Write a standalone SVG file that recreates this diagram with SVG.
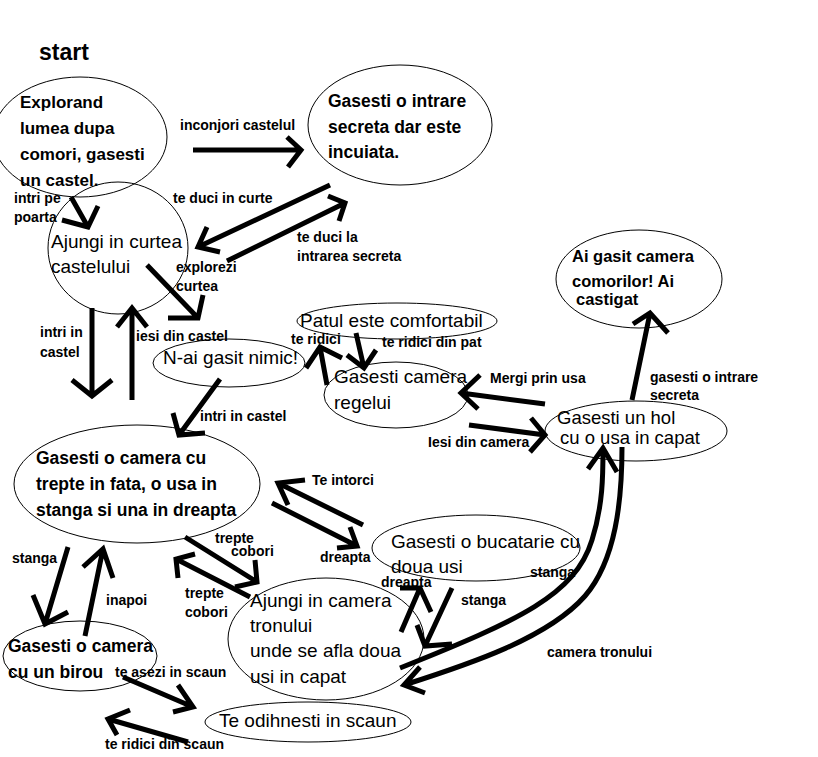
<svg xmlns="http://www.w3.org/2000/svg" width="818" height="757" viewBox="0 0 818 757">
<style>
.bg{fill:#fff}
.node ellipse{fill:none;stroke:#000;stroke-width:1}
.node text{font-family:"Liberation Sans",Arial,sans-serif;font-size:19px;fill:#000}
.node text.b{font-weight:bold;font-size:17.5px}
.lbl{font-family:"Liberation Sans",Arial,sans-serif;font-weight:bold;font-size:14px;fill:#000}
#connectors path{fill:none;stroke:#000;stroke-width:5;stroke-linejoin:miter;stroke-linecap:butt}
</style>
<rect class="bg" x="0" y="0" width="818" height="757"/>
<text class="lbl" x="39" y="60" style="font-size:23px">start</text>

<g id="n-explorand" class="node">
<ellipse cx="80" cy="137" rx="87" ry="60"/>
<text class="b" x="20" y="108" style="font-size:17px">Explorand</text>
<text class="b" x="20" y="134" style="font-size:17px">lumea dupa</text>
<text class="b" x="20" y="160" style="font-size:17px">comori, gasesti</text>
<text class="b" x="20" y="186" style="font-size:17px">un castel.</text>
</g>
<g id="n-intrare" class="node">
<ellipse cx="400" cy="125" rx="92" ry="60"/>
<text class="b" x="328" y="107">Gasesti o intrare</text>
<text class="b" x="328" y="133">secreta dar este</text>
<text class="b" x="328" y="158">incuiata.</text>
</g>
<g id="n-curtea" class="node">
<ellipse cx="118" cy="248" rx="70" ry="66"/>
<text x="51" y="248">Ajungi in curtea</text>
<text x="51" y="273">castelului</text>
</g>
<g id="n-nimic" class="node">
<ellipse cx="229" cy="363" rx="76" ry="24"/>
<text x="163" y="364">N-ai gasit nimic!</text>
</g>
<g id="n-patul" class="node">
<ellipse cx="397" cy="321" rx="100" ry="18"/>
<text x="300" y="327">Patul este comfortabil</text>
</g>
<g id="n-regelui" class="node">
<ellipse cx="396" cy="395" rx="72" ry="33"/>
<text x="334" y="383">Gasesti camera</text>
<text x="334" y="409">regelui</text>
</g>
<g id="n-comori" class="node">
<ellipse cx="639" cy="279" rx="83" ry="49"/>
<text class="b" x="572" y="262" style="font-size:16.5px">Ai gasit camera</text>
<text class="b" x="572" y="287" style="font-size:16.5px">comorilor! Ai</text>
<text class="b" x="576" y="305" style="font-size:16.5px">castigat</text>
</g>
<g id="n-hol" class="node">
<ellipse cx="636" cy="431" rx="91" ry="30"/>
<text x="557" y="424" style="font-size:18.5px">Gasesti un hol</text>
<text x="560" y="444" style="font-size:18.5px">cu o usa in capat</text>
</g>
<g id="n-trepte" class="node">
<ellipse cx="137" cy="484" rx="123" ry="59"/>
<text class="b" x="36" y="464">Gasesti o camera cu</text>
<text class="b" x="36" y="490">trepte in fata, o usa in</text>
<text class="b" x="36" y="516">stanga si una in dreapta</text>
</g>
<g id="n-bucatarie" class="node">
<ellipse cx="476" cy="548" rx="104" ry="33"/>
<text x="391" y="548">Gasesti o bucatarie cu</text>
<text x="391" y="573">doua usi</text>
</g>
<g id="n-tronului" class="node">
<ellipse cx="326" cy="639" rx="98" ry="61"/>
<text x="250" y="607">Ajungi in camera</text>
<text x="250" y="632">tronului</text>
<text x="250" y="657">unde se afla doua</text>
<text x="250" y="683">usi in capat</text>
</g>
<g id="n-birou" class="node">
<ellipse cx="80" cy="656" rx="77" ry="35"/>
<text class="b" x="8" y="652">Gasesti o camera</text>
<text class="b" x="8" y="678">cu un birou</text>
</g>
<g id="n-scaun" class="node">
<ellipse cx="308" cy="722" rx="103" ry="20"/>
<text x="219" y="727">Te odihnesti in scaun</text>
</g>

<g id="connectors">
<path d="M193,150 L301,150 M287,137 L301,150 L288,167"/>
<path d="M71,197 L88,227 M62,220 L88,227 L98,206"/>
<path d="M330,185 L198,247 M207,227 L198,247 L220,252"/>
<path d="M227,261 L345,203 M328,196 L345,203 L339,221"/>
<path d="M147,265 L198,318 M168,318 L198,318 L203,295"/>
<path d="M92,308 L92,396 M72,380 L92,396 L112,380"/>
<path d="M132,400 L132,308 M117,327 L132,308 L147,327"/>
<path d="M220,379 L179,435 M173,413 L179,435 L205,433"/>
<path d="M327,385 L320,347 M306,368 L320,347 L342,358"/>
<path d="M356,333 L364,368 M347,355 L364,368 L376,350"/>
<path d="M545,404 L461,393 M480,375 L461,393 L478,409"/>
<path d="M469,425 L545,435 M531,418 L545,435 L530,452"/>
<path d="M632,400 L650,313 M633,324 L650,313 L668,333"/>
<path d="M363,525 L278,483 M305,480 L278,483 L288,505"/>
<path d="M272,503 L357,546 M350,527 L357,546 L337,548"/>
<path d="M185,537 L257,582 M255,560 L257,582 L235,587"/>
<path d="M250,597 L176,559 M195,554 L176,559 L178,578"/>
<path d="M68,547 L45,624 M33,595 L45,624 L68,612"/>
<path d="M85,636 L103,549 M83,567 L103,549 L113,578"/>
<path d="M123,677 L193,707 M178,685 L193,707 L173,712"/>
<path d="M188,742 L108,719 M130,710 L108,719 L117,735"/>
<path d="M401,632 L420,588 M400,588 L420,588 L431,612"/>
<path d="M452,588 L425,646 M417,625 L425,646 L452,644"/>
<path d="M400,668 C520,620 575,595 592,540 C603,505 603,475 603,448 M588,469 L603,448 L617,472"/>
<path d="M622,447 C622,500 616,560 585,596 C548,638 470,664 404,685 M420,667 L404,685 L425,693"/>
</g>

<g id="labels">
<text class="lbl" x="180" y="130">inconjori castelul</text>
<text class="lbl" x="14" y="203">intri pe</text>
<text class="lbl" x="14" y="222">poarta</text>
<text class="lbl" x="173" y="203">te duci in curte</text>
<text class="lbl" x="297" y="242">te duci la</text>
<text class="lbl" x="297" y="261">intrarea secreta</text>
<text class="lbl" x="176" y="272">explorezi</text>
<text class="lbl" x="176" y="291">curtea</text>
<text class="lbl" x="40" y="337">intri in</text>
<text class="lbl" x="40" y="357">castel</text>
<text class="lbl" x="136" y="341">iesi din castel</text>
<text class="lbl" x="291" y="344">te ridici</text>
<text class="lbl" x="382" y="347">te ridici din pat</text>
<text class="lbl" x="490" y="383">Mergi prin usa</text>
<text class="lbl" x="428" y="447">Iesi din camera</text>
<text class="lbl" x="650" y="382">gasesti o intrare</text>
<text class="lbl" x="650" y="400">secreta</text>
<text class="lbl" x="200" y="421">intri in castel</text>
<text class="lbl" x="312" y="485">Te intorci</text>
<text class="lbl" x="320" y="562">dreapta</text>
<text class="lbl" x="215" y="543">trepte</text>
<text class="lbl" x="231" y="556">cobori</text>
<text class="lbl" x="185" y="598">trepte</text>
<text class="lbl" x="185" y="617">cobori</text>
<text class="lbl" x="12" y="563">stanga</text>
<text class="lbl" x="106" y="605">inapoi</text>
<text class="lbl" x="381" y="587">dreapta</text>
<text class="lbl" x="461" y="605">stanga</text>
<text class="lbl" x="530" y="577">stanga</text>
<text class="lbl" x="547" y="657">camera tronului</text>
<text class="lbl" x="115" y="677">te asezi in scaun</text>
<text class="lbl" x="105" y="749">te ridici din scaun</text>
</g>
</svg>
